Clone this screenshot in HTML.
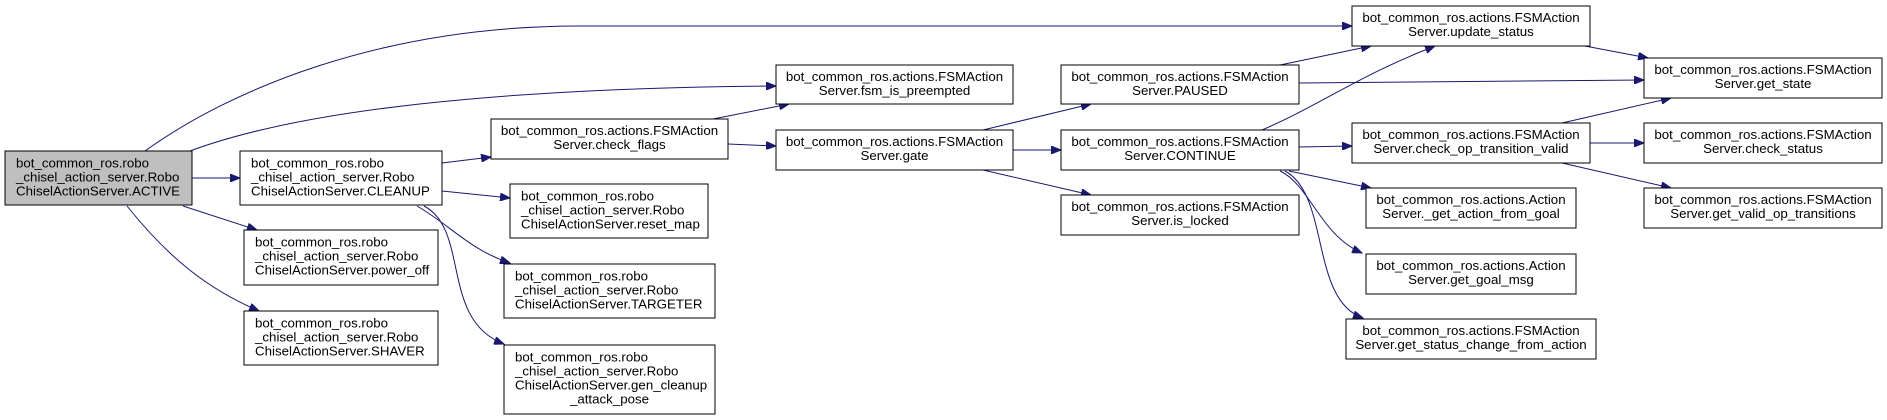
<!DOCTYPE html>
<html><head><meta charset="utf-8"><style>
html,body{margin:0;padding:0;background:#fff;}
svg{display:block;}
text{font-family:"Liberation Sans",Arial,sans-serif;font-size:13.3px;fill:#000;}
.b{fill:#fff;stroke:#000;stroke-width:1;}
.e{fill:none;stroke:#191970;stroke-width:1;}
</style></head><body>
<svg width="1887" height="420" viewBox="0 0 1887 420" xmlns="http://www.w3.org/2000/svg">
<defs><marker id="a" markerWidth="11" markerHeight="8" refX="10" refY="4" orient="auto" markerUnits="userSpaceOnUse"><path d="M0,0 L10,4 L0,8 Z" fill="#191970" stroke="#191970"/></marker></defs>
<g class="e" marker-end="url(#a)">
<path d="M145,151 C230,90 380,26 580,26 L1352,26"/>
<path d="M190,151 C300,110 500,88 776,86"/>
<path d="M192,178 L240,178"/>
<path d="M183,206 L257,230"/>
<path d="M127,206 C170,260 210,290 259,311"/>
<path d="M442,163 L491,157"/>
<path d="M442,191 L510,198"/>
<path d="M417,206 C450,225 470,250 510,263"/>
<path d="M424,206 C470,230 440,320 504,344"/>
<path d="M713,119 L789,104"/>
<path d="M728,144 L776,146"/>
<path d="M983,130 L1091,104"/>
<path d="M1013,150 L1061,150"/>
<path d="M983,170 L1091,195"/>
<path d="M1280,65 L1371,46"/>
<path d="M1299,83 L1644,80"/>
<path d="M1262,130 C1320,105 1360,75 1435,46"/>
<path d="M1299,147 L1352,146"/>
<path d="M1289,171 L1371,188"/>
<path d="M1280,171 C1310,185 1320,235 1362,253"/>
<path d="M1285,171 C1330,195 1310,300 1363,318"/>
<path d="M1585,46 L1648,58"/>
<path d="M1562,123 L1671,98"/>
<path d="M1590,143 L1644,143"/>
<path d="M1562,163 L1671,188"/>
</g>
<rect x="5" y="151" width="187" height="54" style="fill:#bfbfbf;stroke:#000"/>
<text x="16" y="167.5">bot_common_ros.robo</text><text x="16" y="181.5">_chisel_action_server.Robo</text><text x="16" y="195.5">ChiselActionServer.ACTIVE</text>
<rect class="b" x="240" y="151" width="202" height="54"/>
<text x="251" y="167.5">bot_common_ros.robo</text><text x="251" y="181.5">_chisel_action_server.Robo</text><text x="251" y="195.5">ChiselActionServer.CLEANUP</text>
<rect class="b" x="244" y="230" width="194" height="55"/>
<text x="255" y="246.5">bot_common_ros.robo</text><text x="255" y="260.5">_chisel_action_server.Robo</text><text x="255" y="274.5">ChiselActionServer.power_off</text>
<rect class="b" x="244" y="311" width="194" height="54"/>
<text x="255" y="327.5">bot_common_ros.robo</text><text x="255" y="341.5">_chisel_action_server.Robo</text><text x="255" y="355.5">ChiselActionServer.SHAVER</text>
<rect class="b" x="510" y="184" width="198" height="54"/>
<text x="521" y="200.5">bot_common_ros.robo</text><text x="521" y="214.5">_chisel_action_server.Robo</text><text x="521" y="228.5">ChiselActionServer.reset_map</text>
<rect class="b" x="504" y="264" width="211" height="54"/>
<text x="515" y="280.5">bot_common_ros.robo</text><text x="515" y="294.5">_chisel_action_server.Robo</text><text x="515" y="308.5">ChiselActionServer.TARGETER</text>
<rect class="b" x="504" y="345" width="211" height="69"/>
<text x="515" y="361.5">bot_common_ros.robo</text><text x="515" y="375.5">_chisel_action_server.Robo</text><text x="515" y="389.5">ChiselActionServer.gen_cleanup</text><text x="609.5" y="403.5" text-anchor="middle">_attack_pose</text>
<g text-anchor="middle">
<rect class="b" x="491" y="119" width="237" height="40"/>
<text x="609.5" y="135">bot_common_ros.actions.FSMAction</text><text x="609.5" y="149">Server.check_flags</text>
<rect class="b" x="776" y="65" width="237" height="39"/>
<text x="894.5" y="81">bot_common_ros.actions.FSMAction</text><text x="894.5" y="95">Server.fsm_is_preempted</text>
<rect class="b" x="776" y="130" width="237" height="40"/>
<text x="894.5" y="146">bot_common_ros.actions.FSMAction</text><text x="894.5" y="160">Server.gate</text>
<rect class="b" x="1061" y="65" width="238" height="39"/>
<text x="1180" y="81">bot_common_ros.actions.FSMAction</text><text x="1180" y="95">Server.PAUSED</text>
<rect class="b" x="1061" y="130" width="238" height="40"/>
<text x="1180" y="146">bot_common_ros.actions.FSMAction</text><text x="1180" y="160">Server.CONTINUE</text>
<rect class="b" x="1061" y="195" width="238" height="40"/>
<text x="1180" y="211">bot_common_ros.actions.FSMAction</text><text x="1180" y="225">Server.is_locked</text>
<rect class="b" x="1352" y="6" width="238" height="40"/>
<text x="1471" y="22">bot_common_ros.actions.FSMAction</text><text x="1471" y="36">Server.update_status</text>
<rect class="b" x="1352" y="123" width="238" height="40"/>
<text x="1471" y="139">bot_common_ros.actions.FSMAction</text><text x="1471" y="153">Server.check_op_transition_valid</text>
<rect class="b" x="1366" y="188" width="210" height="40"/>
<text x="1471" y="204">bot_common_ros.actions.Action</text><text x="1471" y="218">Server._get_action_from_goal</text>
<rect class="b" x="1366" y="254" width="210" height="40"/>
<text x="1471" y="270">bot_common_ros.actions.Action</text><text x="1471" y="284">Server.get_goal_msg</text>
<rect class="b" x="1346" y="319" width="250" height="40"/>
<text x="1471" y="335">bot_common_ros.actions.FSMAction</text><text x="1471" y="349">Server.get_status_change_from_action</text>
<rect class="b" x="1644" y="58" width="238" height="40"/>
<text x="1763" y="74">bot_common_ros.actions.FSMAction</text><text x="1763" y="88">Server.get_state</text>
<rect class="b" x="1644" y="123" width="238" height="40"/>
<text x="1763" y="139">bot_common_ros.actions.FSMAction</text><text x="1763" y="153">Server.check_status</text>
<rect class="b" x="1644" y="188" width="238" height="40"/>
<text x="1763" y="204">bot_common_ros.actions.FSMAction</text><text x="1763" y="218">Server.get_valid_op_transitions</text>
</g>
</svg>
</body></html>
